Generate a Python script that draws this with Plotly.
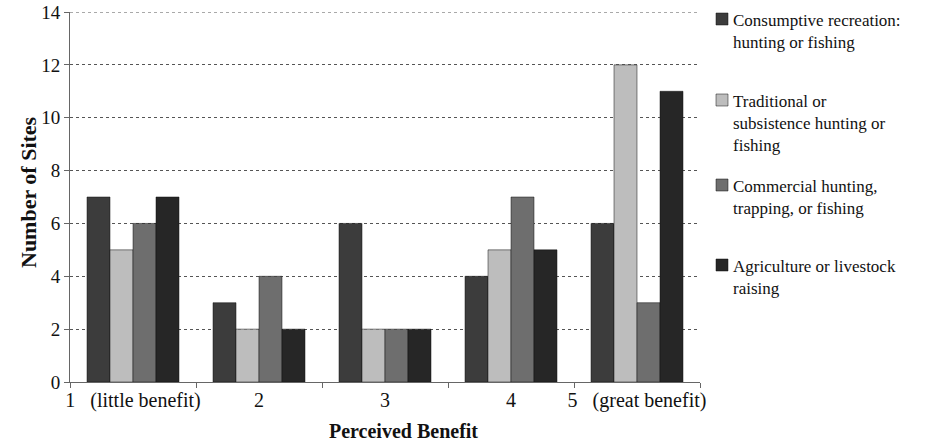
import plotly.graph_objects as go

categories = ["1\u00a0\u00a0\u00a0(little benefit)", "2", "3", "4", "5\u00a0\u00a0\u00a0(great benefit)"]
series_names = [
    "Consumptive recreation:<br>hunting or fishing",
    "Traditional or<br>subsistence hunting or<br>fishing",
    "Commercial hunting,<br>trapping, or fishing",
    "Agriculture or livestock<br>raising",
]
consumptive = [7, 3, 6, 4, 6]
traditional = [5, 2, 2, 5, 12]
commercial = [6, 4, 2, 7, 3]
agriculture = [7, 2, 2, 5, 11]
series_values = [consumptive, traditional, commercial, agriculture]
y_ticks = [0, 2, 4, 6, 8, 10, 12, 14]
x_title = "Perceived Benefit"
y_title = "Number of Sites"
colors = ["#3c3c3c", "#bdbdbd", "#6e6e6e", "#262626"]

FONT = "Times New Roman, Liberation Serif, DejaVu Serif, serif"

fig = go.Figure()
for name, vals, col in zip(series_names, series_values, colors):
    fig.add_trace(go.Bar(
        x=categories, y=vals, name=name,
        marker=dict(color=col, line=dict(color="#111111", width=0.5)),
        showlegend=False,
    ))

FW, FH = 938, 446
PL, PR, PT, PB = 70, 700, 12, 382
W, H = PR - PL, PB - PT
def px_x(p):
    return (p - PL) / W
def px_y(p):
    return (PB - p) / H

legend_rows = [  # (square top px, text top px)
    (13, 9),
    (94, 90),
    (179, 175),
    (259, 255),
]
for (sq, tx), name, col in zip(legend_rows, series_names, colors):
    fig.add_shape(type="rect", xref="paper", yref="paper",
                  x0=px_x(716), x1=px_x(728), y0=px_y(sq + 12), y1=px_y(sq),
                  fillcolor=col, line=dict(color="#111111", width=0.5))
    fig.add_annotation(xref="paper", yref="paper", x=px_x(731), y=px_y(tx),
                       xanchor="left", yanchor="top", text=name, showarrow=False,
                       align="left", font=dict(family=FONT, size=17, color="#111111"))

# axis titles
fig.add_annotation(xref="paper", yref="paper", x=px_x(403), y=px_y(431),
                   xanchor="center", yanchor="middle", showarrow=False,
                   text="<b>" + x_title + "</b>", font=dict(family=FONT, size=20, color="#111111"))
fig.add_annotation(xref="paper", yref="paper", x=px_x(28), y=px_y(192),
                   xanchor="center", yanchor="middle", showarrow=False, textangle=-90,
                   text="<b>" + y_title + "</b>", font=dict(family=FONT, size=22, color="#111111"))

# top gridline (at the upper range edge)
fig.add_shape(type="line", xref="paper", yref="y", x0=0, x1=1, y0=y_ticks[-1], y1=y_ticks[-1],
              line=dict(color="#555555", width=1, dash="dot"), layer="below")

fig.update_layout(
    width=FW, height=FH,
    margin=dict(l=PL, r=FW - PR, t=PT, b=FH - PB),
    paper_bgcolor="white", plot_bgcolor="white",
    barmode="group", bargap=0.27, bargroupgap=0,
    font=dict(family=FONT, size=16, color="#111111"),
)
fig.update_yaxes(
    range=[0, 14], tickvals=y_ticks, showgrid=True,
    gridcolor="#555555", griddash="dot", gridwidth=1, zeroline=False,
    showline=True, linecolor="#666666", linewidth=1, automargin=False,
    ticks="outside", ticklen=5, tickcolor="#666666", ticklabeloverflow="allow",
    tickfont=dict(family=FONT, size=19),
)
fig.update_xaxes(
    showline=True, linecolor="#666666", linewidth=1, ticks="outside", ticklen=5,
    tickcolor="#666666", tickson="boundaries", automargin=False, tickangle=0,
    tickfont=dict(family=FONT, size=20),
)

fig.write_html("out.html", config={"displayModeBar": False},
               post_script="document.body.style.margin='0';")
